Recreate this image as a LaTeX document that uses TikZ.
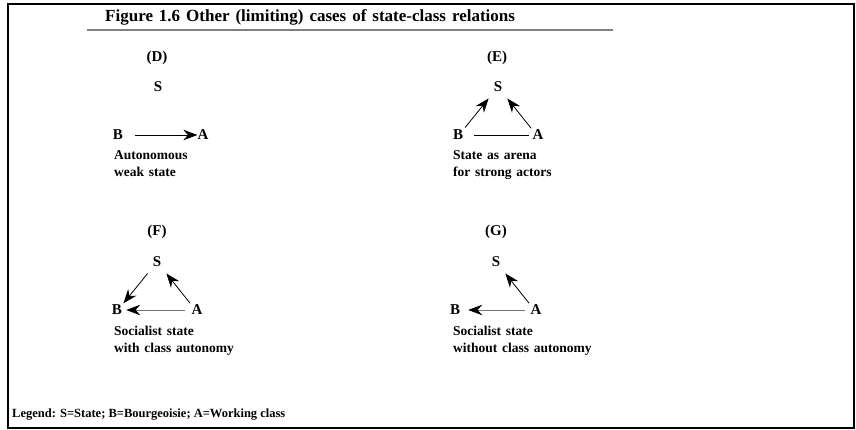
\documentclass[tikz,border=0pt]{standalone}
\usepackage{fontspec}
\setmainfont{Liberation Serif}
\newfontfamily\widefont{Liberation Serif}[WordSpace=2]
\newfontfamily\headfont{Liberation Serif}[WordSpace=1.4]
\usetikzlibrary{arrows.meta}
\begin{document}
\begin{tikzpicture}[x=1pt,y=-1pt,
  lbl/.style={font=\fontsize{15}{15}\selectfont\bfseries, inner sep=0pt},
  captext/.style={font=\widefont\fontsize{13.5}{17}\selectfont\bfseries,
    align=left, anchor=north west, inner sep=0pt},
  tip/.style={-{Stealth[length=14pt,width=10.5pt,color=black]}},
  rel/.style={tip, line width=0.8pt},
  tie/.style={line width=0.8pt},
  faint/.style={draw=black!55}]
\useasboundingbox (0,0) rectangle (856,430);
\draw[line width=2.5pt] (8,4) rectangle (854,428);

% heading
\node[anchor=west, inner sep=0pt, font=\headfont\fontsize{17}{17}\selectfont\bfseries] (title) at (105,17)
  {Figure 1.6 Other (limiting) cases of state-class relations};
\draw[black!50, line width=1.5pt] (87,30) -- (613,30);

% (D) autonomous weak state
\node[lbl] (dT) at (157,58) {(D)};
\node[lbl] (dS) at (158,87) {S};
\node[lbl] (dB) at (118,135) {B};
\node[lbl] (dA) at (203,135) {A};
\draw[rel, shorten <=12pt, shorten >=0pt] (dB.east) -- (dA.west);
\node[captext] (dC) at (114,150) {Autonomous\\weak state};

% (E) state as arena
\node[lbl] (eT) at (497,58) {(E)};
\node[lbl] (eS) at (498,87) {S};
\node[lbl] (eB) at (458,135) {B};
\node[lbl] (eA) at (538,135) {A};
\draw[tie, shorten <=11pt, shorten >=3pt] (eB.east) -- (eA.west);
\draw[rel, shorten <=3pt, shorten >=8pt] (eB.north east) -- (eS.south west);
\draw[rel, shorten <=2pt, shorten >=8pt] (eA.north west) -- (eS.south east);
\node[captext] (eC) at (453,150) {State as arena\\for strong actors};

% (F) socialist state with class autonomy
\node[lbl] (fT) at (157,232) {(F)};
\node[lbl] (fS) at (157,262) {S};
\node[lbl] (fB) at (117,310) {B};
\node[lbl] (fA) at (197,310) {A};
\draw[rel, shorten <=8pt, shorten >=2pt] (fS.south west) -- (fB.north east);
\draw[rel, shorten <=2pt, shorten >=8pt] (fA.north west) -- (fS.south east);
\draw[rel, faint, shorten <=6pt, shorten >=4pt] (fA.west) -- (fB.east);
\node[captext] (fC) at (114,326) {Socialist state\\with class autonomy};

% (G) socialist state without class autonomy
\node[lbl] (gT) at (496,232) {(G)};
\node[lbl] (gS) at (496,262) {S};
\node[lbl] (gB) at (455,310) {B};
\node[lbl] (gA) at (536,310) {A};
\draw[rel, shorten <=2pt, shorten >=8pt] (gA.north west) -- (gS.south east);
\draw[rel, faint, shorten <=5pt, shorten >=8pt] (gA.west) -- (gB.east);
\node[captext] (gC) at (453,326) {Socialist state\\without class autonomy};

% key
\node[anchor=west, inner sep=0pt, font=\fontsize{12.5}{12.5}\selectfont\bfseries] (key) at (12,415)
  {Legend: S=State; B=Bourgeoisie; A=Working class};
\end{tikzpicture}
\end{document}
